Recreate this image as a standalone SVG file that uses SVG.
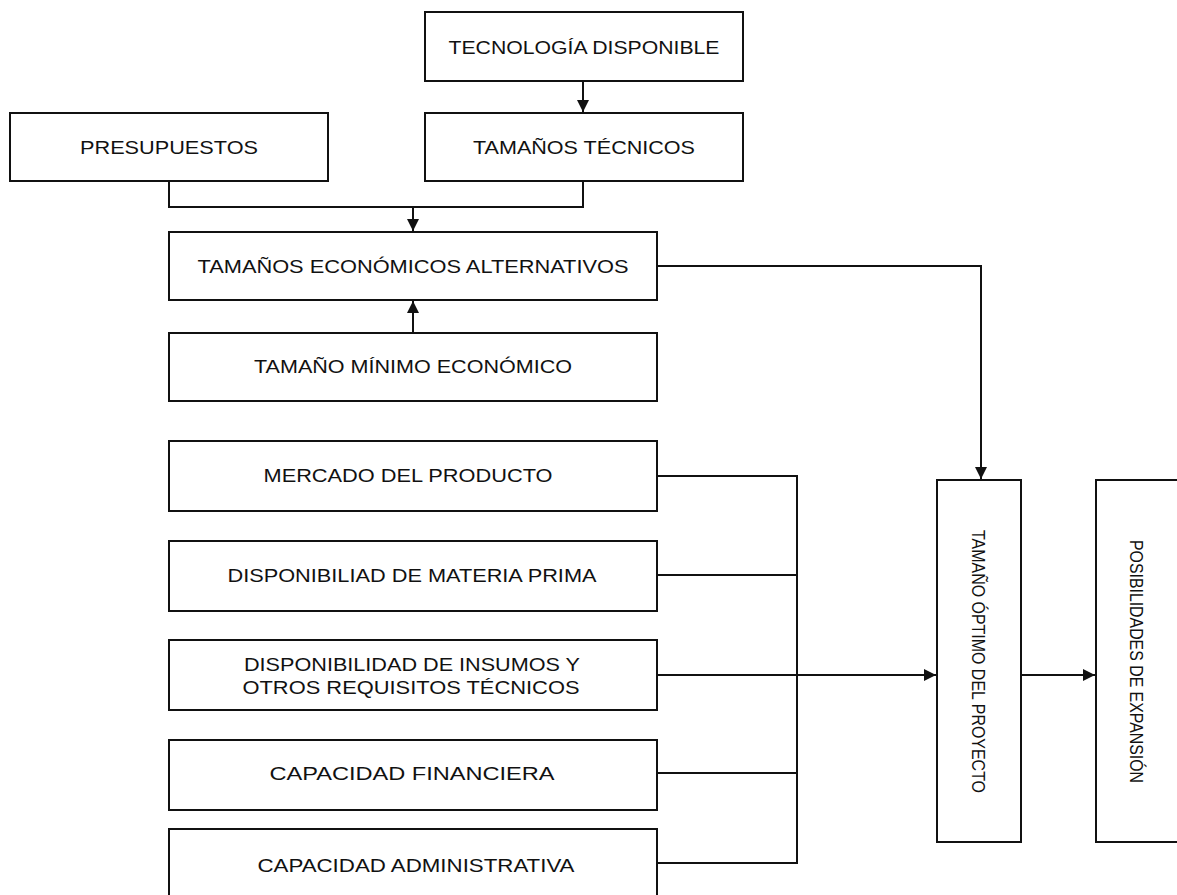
<svg xmlns="http://www.w3.org/2000/svg" width="1177" height="895" viewBox="0 0 1177 895">
  <style>
    .box { fill: #fff; stroke: #111; stroke-width: 2; }
    .lbl { font-family: "Liberation Sans", Arial, sans-serif; font-size: 18px; fill: #111; text-anchor: middle; }
    .vlbl { font-size: 19px; }
    .wire { fill: none; stroke: #111; stroke-width: 2; }
    .arr { fill: none; stroke: #111; stroke-width: 2; marker-end: url(#head); }
  </style>
  <defs>
    <marker id="head" viewBox="0 0 10 10" refX="10" refY="5" markerWidth="12" markerHeight="12" markerUnits="userSpaceOnUse" orient="auto">
      <path d="M0,0 L10,5 L0,10 Z" fill="#111"/>
    </marker>
  </defs>
  <rect width="1177" height="895" fill="#fff"/>

  <!-- connectors -->
  <g id="connectors">
    <line class="arr" x1="583" y1="81" x2="583" y2="112"/>
    <polyline class="wire" points="169,181 169,207 583,207 583,181"/>
    <line class="arr" x1="413" y1="207" x2="413" y2="231"/>
    <line class="arr" x1="413" y1="333" x2="413" y2="301"/>
    <polyline class="arr" points="657,266 981,266 981,479"/>
    <line class="wire" x1="657" y1="476" x2="797" y2="476"/>
    <line class="wire" x1="657" y1="575" x2="797" y2="575"/>
    <line class="wire" x1="657" y1="675" x2="797" y2="675"/>
    <line class="wire" x1="657" y1="773" x2="797" y2="773"/>
    <line class="wire" x1="657" y1="863" x2="797" y2="863"/>
    <line class="wire" x1="797" y1="475" x2="797" y2="864"/>
    <line class="arr" x1="797" y1="675" x2="936" y2="675"/>
    <line class="arr" x1="1021" y1="675" x2="1095" y2="675"/>
  </g>

  <g id="tecnologia">
    <rect class="box" x="425" y="12" width="318" height="69"/>
    <text class="lbl" x="584" y="54" textLength="271" lengthAdjust="spacingAndGlyphs">TECNOLOGÍA DISPONIBLE</text>
  </g>
  <g id="presupuestos">
    <rect class="box" x="10" y="113" width="318" height="68"/>
    <text class="lbl" x="169" y="154" textLength="178" lengthAdjust="spacingAndGlyphs">PRESUPUESTOS</text>
  </g>
  <g id="tamanos-tecnicos">
    <rect class="box" x="425" y="113" width="318" height="68"/>
    <text class="lbl" x="584" y="154" textLength="222" lengthAdjust="spacingAndGlyphs">TAMAÑOS TÉCNICOS</text>
  </g>
  <g id="tamanos-economicos">
    <rect class="box" x="169" y="232" width="488" height="68"/>
    <text class="lbl" x="413" y="273" textLength="431" lengthAdjust="spacingAndGlyphs">TAMAÑOS ECONÓMICOS ALTERNATIVOS</text>
  </g>
  <g id="tamano-minimo">
    <rect class="box" x="169" y="333" width="488" height="68"/>
    <text class="lbl" x="413" y="373" textLength="318" lengthAdjust="spacingAndGlyphs">TAMAÑO MÍNIMO ECONÓMICO</text>
  </g>
  <g id="mercado">
    <rect class="box" x="169" y="441" width="488" height="70"/>
    <text class="lbl" x="408" y="482" textLength="289" lengthAdjust="spacingAndGlyphs">MERCADO DEL PRODUCTO</text>
  </g>
  <g id="materia-prima">
    <rect class="box" x="169" y="541" width="488" height="70"/>
    <text class="lbl" x="412" y="582" textLength="369" lengthAdjust="spacingAndGlyphs">DISPONIBILIAD DE MATERIA PRIMA</text>
  </g>
  <g id="insumos">
    <rect class="box" x="169" y="640" width="488" height="70"/>
    <text class="lbl" x="412" y="671" textLength="336" lengthAdjust="spacingAndGlyphs">DISPONIBILIDAD DE INSUMOS Y</text>
    <text class="lbl" x="411" y="694" textLength="337" lengthAdjust="spacingAndGlyphs">OTROS REQUISITOS TÉCNICOS</text>
  </g>
  <g id="capacidad-financiera">
    <rect class="box" x="169" y="740" width="488" height="70"/>
    <text class="lbl" x="412" y="780" textLength="285" lengthAdjust="spacingAndGlyphs">CAPACIDAD FINANCIERA</text>
  </g>
  <g id="capacidad-administrativa">
    <rect class="box" x="169" y="829" width="488" height="80"/>
    <text class="lbl" x="416" y="872" textLength="317" lengthAdjust="spacingAndGlyphs">CAPACIDAD ADMINISTRATIVA</text>
  </g>
  <g id="tamano-optimo">
    <rect class="box" x="937" y="480" width="84" height="362"/>
    <text class="lbl vlbl" transform="translate(972,661.5) rotate(90)" x="0" y="0" textLength="263" lengthAdjust="spacingAndGlyphs">TAMAÑO ÓPTIMO DEL PROYECTO</text>
  </g>
  <g id="posibilidades">
    <rect class="box" x="1096" y="480" width="100" height="362"/>
    <text class="lbl vlbl" transform="translate(1130,661.5) rotate(90)" x="0" y="0" textLength="243" lengthAdjust="spacingAndGlyphs">POSIBILIDADES DE EXPANSIÓN</text>
  </g>
</svg>
